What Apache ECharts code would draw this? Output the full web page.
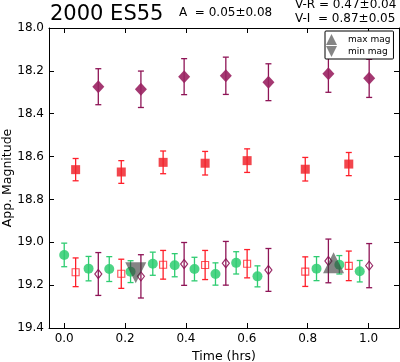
<!DOCTYPE html>
<html>
<head>
<meta charset="utf-8">
<script src="https://cdn.jsdelivr.net/npm/echarts@6/dist/echarts.min.js"></script>
<style>html,body{margin:0;padding:0;background:#fff}#c{width:400px;height:362px}</style>
</head>
<body>
<div id="c"></div>
<script>
// R band (filled squares)
const timeR = [0.0375, 0.1875, 0.325, 0.463, 0.601, 0.792, 0.935];
const magR  = [18.661, 18.672, 18.627, 18.631, 18.619, 18.659, 18.635];
const errR  = [0.052, 0.053, 0.053, 0.055, 0.055, 0.055, 0.054];
// I band (filled diamonds)
const timeI = [0.112, 0.252, 0.394, 0.531, 0.671, 0.868, 1.002];
const magI  = [18.274, 18.286, 18.227, 18.223, 18.253, 18.213, 18.235];
const errI  = [0.084, 0.085, 0.084, 0.087, 0.086, 0.087, 0.089];
// V band (green circles)
const timeV = [0.0, 0.08, 0.148, 0.218, 0.291, 0.363, 0.428, 0.497, 0.565, 0.635, 0.829, 0.904, 0.971];
const magV  = [19.059, 19.123, 19.125, 19.137, 19.100, 19.107, 19.125, 19.148, 19.096, 19.159, 19.123, 19.105, 19.135];
const errV  = [0.055, 0.057, 0.058, 0.051, 0.054, 0.054, 0.055, 0.052, 0.052, 0.049, 0.056, 0.043, 0.050];
// R shifted by V-R (open squares)
const magRs = [19.140, 19.147, 19.105, 19.106, 19.100, 19.137, 19.110];
const errRs = [0.067, 0.068, 0.067, 0.068, 0.066, 0.069, 0.069];
// I shifted by V-I (open diamonds)
const magIs = [19.148, 19.159, 19.101, 19.098, 19.129, 19.087, 19.109];
const errIs = [0.100, 0.101, 0.100, 0.102, 0.100, 0.102, 0.103];
// extremes
const maxTime = [0.885], maxMag = [19.096];
const minTime = [0.235], minMag = [19.142];
// ticks
const xTicks = [0.0, 0.2, 0.4, 0.6, 0.8, 1.0];
const titleText = '2000 ES55';
const ampText = 'A  = 0.05\u00b10.08';
const vrText = 'V-R = 0.47\u00b10.04';
const viText = 'V-I  = 0.87\u00b10.05';

const FONT = 'DejaVu Sans';
const pts = (t, m) => t.map((x, i) => [x, m[i]]);
const errs = (t, m, e) => t.map((x, i) => [x, m[i] - e[i], m[i] + e[i]]);

function errSeries(data, color, cap) {
  return {
    type: 'custom', xAxisIndex: 0, yAxisIndex: 0, silent: true,
    encode: { x: 0, y: [1, 2] },
    data: data,
    renderItem: function (params, api) {
      const x = api.value(0);
      const a = api.coord([x, api.value(1)]);
      const b = api.coord([x, api.value(2)]);
      const w = cap / 2;
      const st = { stroke: color, lineWidth: 1.3 };
      return { type: 'group', children: [
        { type: 'line', shape: { x1: a[0], y1: a[1], x2: b[0], y2: b[1] }, style: st },
        { type: 'line', shape: { x1: a[0] - w, y1: a[1], x2: a[0] + w, y2: a[1] }, style: st },
        { type: 'line', shape: { x1: b[0] - w, y1: b[1], x2: b[0] + w, y2: b[1] }, style: st }
      ]};
    }
  };
}

const GREEN = '#2ecc71', RED = '#ff1f2a', PURP = '#8e1456';

const chart = echarts.init(document.getElementById('c'), null, { renderer: 'canvas' });
const xCommon = {
  type: 'value', min: -0.05, max: 1.1,
  axisLine: { show: true, onZero: false, lineStyle: { color: '#000', width: 1 } },
  axisTick: { show: true, inside: true, length: 5, customValues: xTicks, lineStyle: { color: '#000' } },
  splitLine: { show: false }
};
const yCommon = {
  type: 'value', min: 18.0, max: 19.4, interval: 0.2, inverse: true,
  axisLine: { show: true, onZero: false, lineStyle: { color: '#000', width: 1 } },
  axisTick: { show: true, inside: true, length: 5, lineStyle: { color: '#000' } },
  splitLine: { show: false }
};
chart.setOption({
  animation: false,
  textStyle: { fontFamily: FONT },
  grid: { left: 49, right: 1, top: 28, bottom: 34, containLabel: false, outerBoundsMode: 'none' },
  xAxis: [
    Object.assign({}, xCommon, {
      position: 'bottom',
      name: 'Time (hrs)', nameLocation: 'middle', nameGap: 22, nameMoveOverlap: false,
      nameTextStyle: { fontFamily: FONT, fontSize: 12.5, color: '#000' },
      axisLabel: { show: true, customValues: xTicks, margin: 5, fontFamily: FONT, fontSize: 12, color: '#000',
        formatter: v => v.toFixed(1) }
    }),
    Object.assign({}, xCommon, { position: 'top', axisLabel: { show: false, customValues: xTicks } })
  ],
  yAxis: [
    Object.assign({}, yCommon, {
      position: 'left',
      name: 'App. Magnitude', nameLocation: 'middle', nameGap: 35, nameRotate: 90, nameMoveOverlap: false,
      nameTextStyle: { fontFamily: FONT, fontSize: 12.5, color: '#000' },
      axisLabel: { show: true, margin: 5, fontFamily: FONT, fontSize: 12, color: '#000',
        formatter: v => v.toFixed(1) }
    }),
    Object.assign({}, yCommon, { position: 'right', axisLabel: { show: false } })
  ],
  legend: {
    orient: 'vertical', left: 325, top: 31,
    padding: [3, 3, 2, 1], itemGap: 1, itemWidth: 23, itemHeight: 11,
    borderColor: '#000', borderWidth: 1, borderRadius: 1, backgroundColor: '#fff',
    textStyle: { fontFamily: FONT, fontSize: 9, color: '#000' },
    data: [
      { name: 'max mag', icon: 'path://M5,0L10,10L0,10Z' },
      { name: 'min mag', icon: 'path://M0,0L10,0L5,10Z' }
    ]
  },
  graphic: [
    { type: 'text', style: { x: 50, y: 15, text: titleText, font: '21px "DejaVu Sans"', fill: '#000', verticalAlign: 'middle' } },
    { type: 'text', style: { x: 179, y: 13, text: ampText, font: '12px "DejaVu Sans"', fill: '#000', verticalAlign: 'middle' } },
    { type: 'text', style: { x: 295, y: 5, text: vrText, font: '12px "DejaVu Sans"', fill: '#000', verticalAlign: 'middle' } },
    { type: 'text', style: { x: 295, y: 19, text: viText, font: '12px "DejaVu Sans"', fill: '#000', verticalAlign: 'middle' } }
  ],
  series: [
    errSeries(errs(timeV, magV, errV), GREEN, 6),
    { type: 'scatter', name: 'V', xAxisIndex: 0, yAxisIndex: 0, data: pts(timeV, magV), symbol: 'circle', symbolSize: 10,
      itemStyle: { color: GREEN, opacity: 0.85 } },
    errSeries(errs(timeR, magRs, errRs), RED, 6),
    { type: 'scatter', name: 'Rs', xAxisIndex: 0, yAxisIndex: 0, data: pts(timeR, magRs), symbol: 'rect', symbolSize: 7,
      itemStyle: { color: 'rgba(255,255,255,0)', borderColor: RED, borderWidth: 1.1, opacity: 0.8 } },
    errSeries(errs(timeI, magIs, errIs), PURP, 6),
    { type: 'scatter', name: 'Is', xAxisIndex: 0, yAxisIndex: 0, data: pts(timeI, magIs), symbol: 'diamond', symbolSize: [7, 9],
      itemStyle: { color: 'rgba(255,255,255,0)', borderColor: PURP, borderWidth: 1.2, opacity: 0.9 } },
    errSeries(errs(timeR, magR, errR), RED, 6),
    { type: 'scatter', name: 'R', xAxisIndex: 0, yAxisIndex: 0, data: pts(timeR, magR), symbol: 'rect', symbolSize: 9,
      itemStyle: { color: '#f0262e', opacity: 0.85 } },
    errSeries(errs(timeI, magI, errI), PURP, 6),
    { type: 'scatter', name: 'I', xAxisIndex: 0, yAxisIndex: 0, data: pts(timeI, magI), symbol: 'diamond', symbolSize: [12, 13],
      itemStyle: { color: '#9a2262', opacity: 0.9 } },
    { type: 'scatter', name: 'max mag', xAxisIndex: 0, yAxisIndex: 0, data: pts(maxTime, maxMag), symbol: 'triangle', symbolSize: [21, 21],
      itemStyle: { color: '#3a3a3a', opacity: 0.62 } },
    { type: 'scatter', name: 'min mag', xAxisIndex: 0, yAxisIndex: 0, data: pts(minTime, minMag), symbol: 'triangle', symbolSize: [21, 21], symbolRotate: 180,
      itemStyle: { color: '#3a3a3a', opacity: 0.62 } }
  ]
});
</script>
</body>
</html>
